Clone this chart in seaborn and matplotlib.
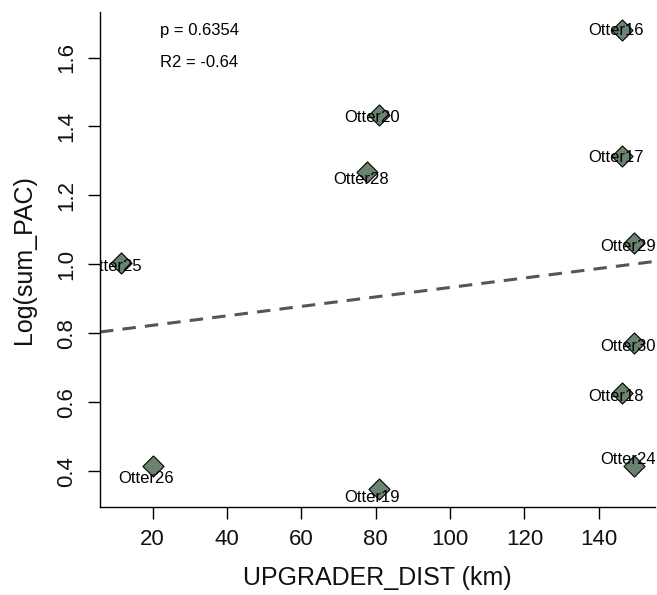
import matplotlib
matplotlib.use("Agg")
import matplotlib.pyplot as plt
import seaborn as sns
import numpy as np
import pandas as pd

# ---- data ----
sites = ["Otter16", "Otter20", "Otter28", "Otter17", "Otter29", "Otter25",
         "Otter30", "Otter18", "Otter24", "Otter19", "Otter26"]
upgrader_dist = [146.3, 80.9, 77.7, 146.3, 149.6, 11.4, 149.6, 146.3, 149.6, 80.9, 20.0]
log_sum_pac = [1.679, 1.434, 1.269, 1.315, 1.062, 1.003, 0.773, 0.628, 0.415, 0.349, 0.415]
x_ticks = [20, 40, 60, 80, 100, 120, 140]
y_ticks = [0.4, 0.6, 0.8, 1.0, 1.2, 1.4, 1.6]
y_tick_labels = ["0.4", "0.6", "0.8", "1.0", "1.2", "1.4", "1.6"]
stats_text = ["p = 0.6354", "R2 = -0.64"]

# label vertical offsets (pixels, downward) relative to each point
label_dy_px = [-1, 1, 6, 0, 2, 2, 2, 2, -8, 7, 11]

df = pd.DataFrame({"site": sites, "dist": upgrader_dist, "pac": log_sum_pac})

sns.set_style("ticks")
plt.rcParams["font.family"] = ["Liberation Sans", "DejaVu Sans"]

fig = plt.figure(figsize=(6.57, 5.95), dpi=100)
W, H = 657, 595
ax = fig.add_axes([100 / W, (H - 507) / H, (655 - 100) / W, (507 - 12) / H])

sns.scatterplot(data=df, x="dist", y="pac", marker="D", s=115,
                color="#6a8470", edgecolor="black", linewidth=0.8,
                ax=ax, zorder=2, legend=False)
ax.margins(0.04)
ax.autoscale_view()
xlim = ax.get_xlim()
ylim = ax.get_ylim()

sns.regplot(data=df, x="dist", y="pac", scatter=False, ci=None, truncate=False,
            ax=ax, line_kws=dict(color="#50585e", lw=2.2, dashes=(4.4, 3)))
ax.set_xlim(xlim)
ax.set_ylim(ylim)

for name, xv, yv, dy in zip(sites, upgrader_dist, log_sum_pac, label_dy_px):
    ax.annotate(name, xy=(xv, yv), xytext=(-6.5 * 0.72, -(dy + 6) * 0.72),
                textcoords="offset points", ha="center", va="baseline",
                fontsize=12, color="black", clip_on=True, zorder=3)

ax.text(0.108, 0.962, stats_text[0], transform=ax.transAxes, ha="left",
        va="center", fontsize=12, color="black")
ax.text(0.108, 0.897, stats_text[1], transform=ax.transAxes, ha="left",
        va="center", fontsize=12, color="black")

ax.set_xticks(x_ticks)
ax.set_yticks(y_ticks)
ax.set_yticklabels(y_tick_labels, rotation=90, va="center")
ax.tick_params(axis="both", which="major", direction="out", length=8.6,
               width=1.0, color="black", labelsize=16, labelcolor="#111111",
               bottom=True, left=True)
ax.tick_params(axis="x", pad=7)
ax.tick_params(axis="y", pad=8)

for s in ["top", "right"]:
    ax.spines[s].set_visible(False)
for s in ["left", "bottom"]:
    ax.spines[s].set_color("black")
    ax.spines[s].set_linewidth(1.0)

ax.set_xlabel("UPGRADER_DIST (km)", fontsize=18, labelpad=12, color="#111111")
ax.set_ylabel("Log(sum_PAC)", fontsize=18, labelpad=14, color="#111111")

fig.savefig("out.png", dpi=100)
